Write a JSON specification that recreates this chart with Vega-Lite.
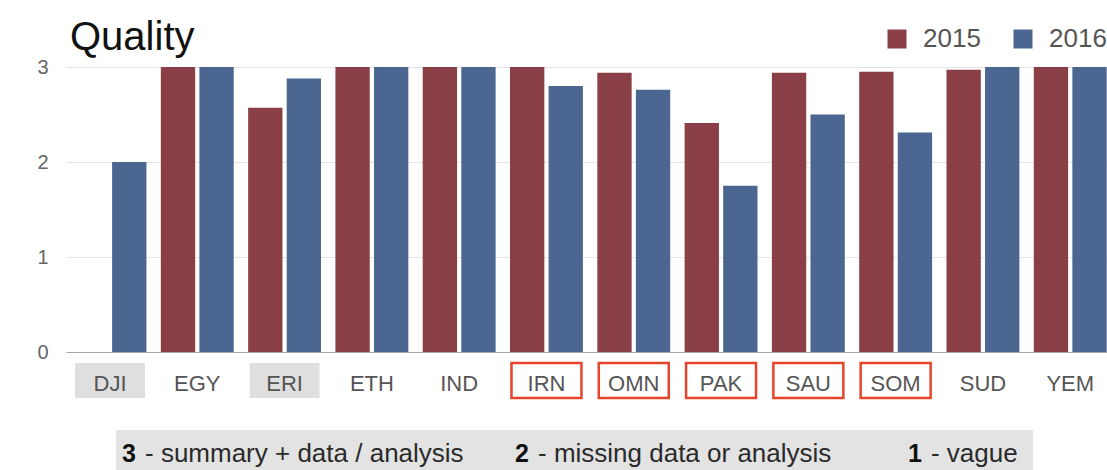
{
  "$schema": "https://vega.github.io/schema/vega-lite/v6.json",
  "width": 1041,
  "height": 285,
  "autosize": {"type": "none"},
  "padding": {"left": 66, "top": 67, "right": 0, "bottom": 118},
  "background": "white",
  "config": {"font": "Liberation Sans", "view": {"stroke": null}},
  "title": {"text": "Quality", "anchor": "start", "frame": "group", "fontSize": 40, "fontWeight": "normal", "color": "#111111", "font": "Liberation Sans", "baseline": "alphabetic", "offset": 4, "dx": 4, "dy": 68},
  "datasets": {
    "scores": [
      {"country": "DJI", "year": "2016", "value": 2.0},
      {"country": "EGY", "year": "2015", "value": 3.0},
      {"country": "EGY", "year": "2016", "value": 3.0},
      {"country": "ERI", "year": "2015", "value": 2.57},
      {"country": "ERI", "year": "2016", "value": 2.88},
      {"country": "ETH", "year": "2015", "value": 3.0},
      {"country": "ETH", "year": "2016", "value": 3.0},
      {"country": "IND", "year": "2015", "value": 3.0},
      {"country": "IND", "year": "2016", "value": 3.0},
      {"country": "IRN", "year": "2015", "value": 3.0},
      {"country": "IRN", "year": "2016", "value": 2.8},
      {"country": "OMN", "year": "2015", "value": 2.94},
      {"country": "OMN", "year": "2016", "value": 2.76},
      {"country": "PAK", "year": "2015", "value": 2.41},
      {"country": "PAK", "year": "2016", "value": 1.75},
      {"country": "SAU", "year": "2015", "value": 2.94},
      {"country": "SAU", "year": "2016", "value": 2.5},
      {"country": "SOM", "year": "2015", "value": 2.95},
      {"country": "SOM", "year": "2016", "value": 2.31},
      {"country": "SUD", "year": "2015", "value": 2.97},
      {"country": "SUD", "year": "2016", "value": 3.0},
      {"country": "YEM", "year": "2015", "value": 3.0},
      {"country": "YEM", "year": "2016", "value": 3.0}
    ],
    "countries": [
      {"country": "DJI", "status": "shaded"},
      {"country": "ERI", "status": "shaded"},
      {"country": "IRN", "status": "outlined"},
      {"country": "OMN", "status": "outlined"},
      {"country": "PAK", "status": "outlined"},
      {"country": "SAU", "status": "outlined"},
      {"country": "SOM", "status": "outlined"}
    ],
    "key": [
      {"score": 3, "desc": "- summary + data / analysis"},
      {"score": 2, "desc": "- missing data or analysis"},
      {"score": 1, "desc": "- vague"}
    ],
    "band": [{"name": "key band"}]
  },
  "layer": [
    {
      "layer": [
        {
          "data": {"name": "countries"},
          "transform": [{"filter": "datum.status === 'shaded'"}],
          "mark": {"type": "bar", "fill": "#dfdfdf", "width": {"band": 0.96}},
          "encoding": {
            "x": {"field": "country", "type": "nominal", "sort": ["DJI","EGY","ERI","ETH","IND","IRN","OMN","PAK","SAU","SOM","SUD","YEM"], "scale": {"domain": ["DJI","EGY","ERI","ETH","IND","IRN","OMN","PAK","SAU","SOM","SUD","YEM"], "paddingInner": 0.165, "paddingOuter": 0.045, "align": 0.96}, "axis": {"title": null, "labelAngle": 0, "labelFontSize": 22, "labelColor": "#555555", "labelBaseline": "middle", "labelPadding": 31, "ticks": false, "domain": true, "domainColor": "#a8a8a8", "domainWidth": 1.2, "zindex": 1}},
            "y": {"datum": -0.116, "type": "quantitative", "scale": {"domain": [0, 3], "nice": false}, "axis": {"title": null, "values": [0, 1, 2, 3], "grid": true, "gridColor": "#e4e4e4", "domain": false, "ticks": false, "labelFontSize": 20, "labelColor": "#666666", "labelPadding": 18, "zindex": 0}},
            "y2": {"datum": -0.484}
          }
        },
        {
          "data": {"name": "countries"},
          "transform": [{"filter": "datum.status === 'outlined'"}],
          "mark": {"type": "bar", "filled": false, "fill": null, "stroke": "#e6452c", "strokeWidth": 2.5, "width": {"band": 0.96}},
          "encoding": {
            "x": {"field": "country", "type": "nominal", "sort": ["DJI","EGY","ERI","ETH","IND","IRN","OMN","PAK","SAU","SOM","SUD","YEM"], "scale": {"domain": ["DJI","EGY","ERI","ETH","IND","IRN","OMN","PAK","SAU","SOM","SUD","YEM"], "paddingInner": 0.165, "paddingOuter": 0.045, "align": 0.96}, "axis": {"title": null, "labelAngle": 0, "labelFontSize": 22, "labelColor": "#555555", "labelBaseline": "middle", "labelPadding": 31, "ticks": false, "domain": true, "domainColor": "#a8a8a8", "domainWidth": 1.2, "zindex": 1}},
            "y": {"datum": -0.116, "type": "quantitative", "scale": {"domain": [0, 3], "nice": false}, "axis": {"title": null, "values": [0, 1, 2, 3], "grid": true, "gridColor": "#e4e4e4", "domain": false, "ticks": false, "labelFontSize": 20, "labelColor": "#666666", "labelPadding": 18, "zindex": 0}},
            "y2": {"datum": -0.484}
          }
        },
        {
          "data": {"name": "scores"},
          "mark": {"type": "bar"},
          "encoding": {
            "x": {"field": "country", "type": "nominal", "sort": ["DJI","EGY","ERI","ETH","IND","IRN","OMN","PAK","SAU","SOM","SUD","YEM"], "scale": {"domain": ["DJI","EGY","ERI","ETH","IND","IRN","OMN","PAK","SAU","SOM","SUD","YEM"], "paddingInner": 0.165, "paddingOuter": 0.045, "align": 0.96}, "axis": {"title": null, "labelAngle": 0, "labelFontSize": 22, "labelColor": "#555555", "labelBaseline": "middle", "labelPadding": 31, "ticks": false, "domain": true, "domainColor": "#a8a8a8", "domainWidth": 1.2, "zindex": 1}},
            "xOffset": {"field": "year", "type": "nominal", "scale": {"domain": ["2015", "2016"], "paddingInner": 0.11, "paddingOuter": 0}},
            "y": {"field": "value", "type": "quantitative", "scale": {"domain": [0, 3], "nice": false}, "axis": {"title": null, "values": [0, 1, 2, 3], "grid": true, "gridColor": "#e4e4e4", "domain": false, "ticks": false, "labelFontSize": 20, "labelColor": "#666666", "labelPadding": 18, "zindex": 0}},
            "color": {"field": "year", "type": "nominal", "scale": {"domain": ["2015", "2016"], "range": ["#8a3e46", "#4b6690"]}, "legend": {"orient": "none", "legendX": 818, "legendY": -41, "direction": "horizontal", "title": null, "symbolType": "square", "symbolSize": 361, "symbolStrokeWidth": 0, "symbolOpacity": 1, "labelFontSize": 26, "labelColor": "#555555", "labelOffset": 13, "columnPadding": 29, "padding": 0}}
          }
        }
      ]
    },
    {
      "layer": [
        {
          "data": {"name": "band"},
          "mark": {"type": "rect", "fill": "#e3e3e3"},
          "encoding": {
            "x": {"datum": 3.0153, "type": "quantitative", "scale": {"domain": [0.4936, 3.1425], "reverse": true, "nice": false, "zero": false}, "axis": null},
            "x2": {"datum": 0.6819},
            "y": {"datum": -0.821, "type": "quantitative", "scale": {"domain": [0, 3], "nice": false}, "axis": {"title": null, "values": [0, 1, 2, 3], "grid": true, "gridColor": "#e4e4e4", "domain": false, "ticks": false, "labelFontSize": 20, "labelColor": "#666666", "labelPadding": 18, "zindex": 0}},
            "y2": {"datum": -1.3}
          }
        },
        {
          "data": {"name": "key"},
          "mark": {"type": "text", "align": "left", "baseline": "middle", "fontSize": 25, "fontWeight": "bold", "color": "#111111"},
          "encoding": {
            "x": {"field": "score", "type": "quantitative", "scale": {"domain": [0.4936, 3.1425], "reverse": true, "nice": false, "zero": false}, "axis": null},
            "y": {"datum": -1.074, "type": "quantitative", "scale": {"domain": [0, 3], "nice": false}, "axis": {"title": null, "values": [0, 1, 2, 3], "grid": true, "gridColor": "#e4e4e4", "domain": false, "ticks": false, "labelFontSize": 20, "labelColor": "#666666", "labelPadding": 18, "zindex": 0}},
            "text": {"field": "score", "type": "quantitative"}
          }
        },
        {
          "data": {"name": "key"},
          "mark": {"type": "text", "align": "left", "baseline": "middle", "fontSize": 26, "dx": 23, "color": "#2a2a2a"},
          "encoding": {
            "x": {"field": "score", "type": "quantitative", "scale": {"domain": [0.4936, 3.1425], "reverse": true, "nice": false, "zero": false}, "axis": null},
            "y": {"datum": -1.074, "type": "quantitative", "scale": {"domain": [0, 3], "nice": false}, "axis": {"title": null, "values": [0, 1, 2, 3], "grid": true, "gridColor": "#e4e4e4", "domain": false, "ticks": false, "labelFontSize": 20, "labelColor": "#666666", "labelPadding": 18, "zindex": 0}},
            "text": {"field": "desc", "type": "nominal"}
          }
        }
      ]
    }
  ],
  "resolve": {"scale": {"x": "independent"}}
}
